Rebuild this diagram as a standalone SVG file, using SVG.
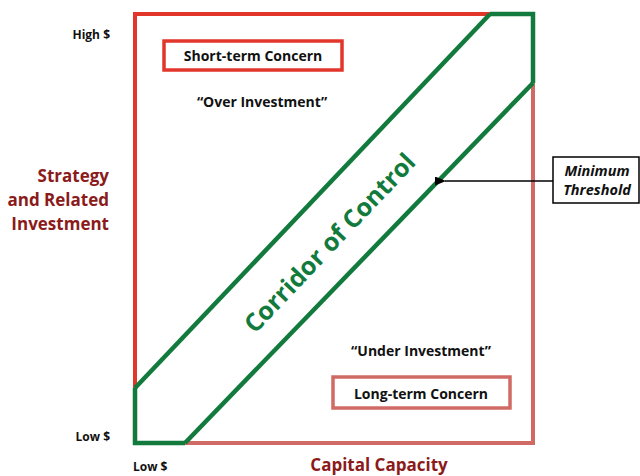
<svg xmlns="http://www.w3.org/2000/svg" width="640" height="476" viewBox="0 0 640 476">
<defs>
<style>
.red{stroke:#e2362b;stroke-width:4;fill:none}
.grn{stroke:#117a3c;stroke-width:4.5;fill:none}
.pnk{stroke:#d06a64;stroke-width:4;fill:none}
.lbl{font-family:"Open Sans","Liberation Sans",sans-serif;font-weight:bold;fill:#111}
.axis{font-family:"Open Sans","Liberation Sans",sans-serif;font-weight:bold;fill:#8b1b1b}
</style>
<marker id="ah" markerWidth="11" markerHeight="9" refX="1" refY="4.5" orient="auto-start-reverse" markerUnits="userSpaceOnUse">
<path d="M11,0 L0,4.5 L11,9 Z" fill="#000"/>
</marker>
</defs>
<rect width="640" height="476" fill="#fff"/>
<g id="frame">
<polyline class="red" points="135,388 135,14 490,14"/>
<polyline class="grn" points="490,14 533,14 533,83"/>
<polyline class="pnk" points="533,83 533,443 185,443"/>
<polyline class="grn" points="135,388 135,443 185,443"/>
</g>
<g id="corridor">
<line class="grn" x1="135" y1="388" x2="490" y2="14"/>
<line class="grn" x1="185" y1="443" x2="533" y2="83"/>
<text class="lbl" x="0" y="0" font-size="25" style="fill:#117a3c" text-anchor="middle" transform="translate(336,249) rotate(-46.5)">Corridor of Control</text>
</g>
<g id="short-term">
<rect x="164" y="41" width="178" height="29" fill="#fff" stroke="#e2362b" stroke-width="3.5"/>
<text class="lbl" x="253" y="61" font-size="14" text-anchor="middle">Short-term Concern</text>
</g>
<g id="over">
<text class="lbl" x="262" y="107" font-size="14" text-anchor="middle">“Over Investment”</text>
</g>
<g id="under">
<text class="lbl" x="421" y="356" font-size="14" text-anchor="middle">“Under Investment”</text>
</g>
<g id="long-term">
<rect x="333" y="377" width="177" height="31" fill="#fff" stroke="#d06a64" stroke-width="3.5"/>
<text class="lbl" x="421" y="399" font-size="14" text-anchor="middle">Long-term Concern</text>
</g>
<g id="threshold">
<rect x="553" y="157" width="86" height="46" fill="#fff" stroke="#000" stroke-width="1.5"/>
<text class="lbl" x="597" y="176" font-size="14.5" font-style="italic" text-anchor="middle">Minimum</text>
<text class="lbl" x="597" y="195" font-size="14.5" font-style="italic" text-anchor="middle">Threshold</text>
</g>
<g id="connectors">
<line x1="553" y1="181" x2="445" y2="181" stroke="#000" stroke-width="1.5" marker-end="url(#ah)"/>
</g>
<g id="labels">
<text class="lbl" x="110" y="39" font-size="12" text-anchor="end">High $</text>
<text class="lbl" x="110" y="441" font-size="12" text-anchor="end">Low $</text>
<text class="lbl" x="133" y="471" font-size="12">Low $</text>
<text class="axis" x="379" y="471" font-size="17" text-anchor="middle">Capital Capacity</text>
<text class="axis" x="109" y="182" font-size="17" text-anchor="end">Strategy</text>
<text class="axis" x="109" y="206" font-size="17" text-anchor="end">and Related</text>
<text class="axis" x="109" y="230" font-size="17" text-anchor="end">Investment</text>
</g>
</svg>
